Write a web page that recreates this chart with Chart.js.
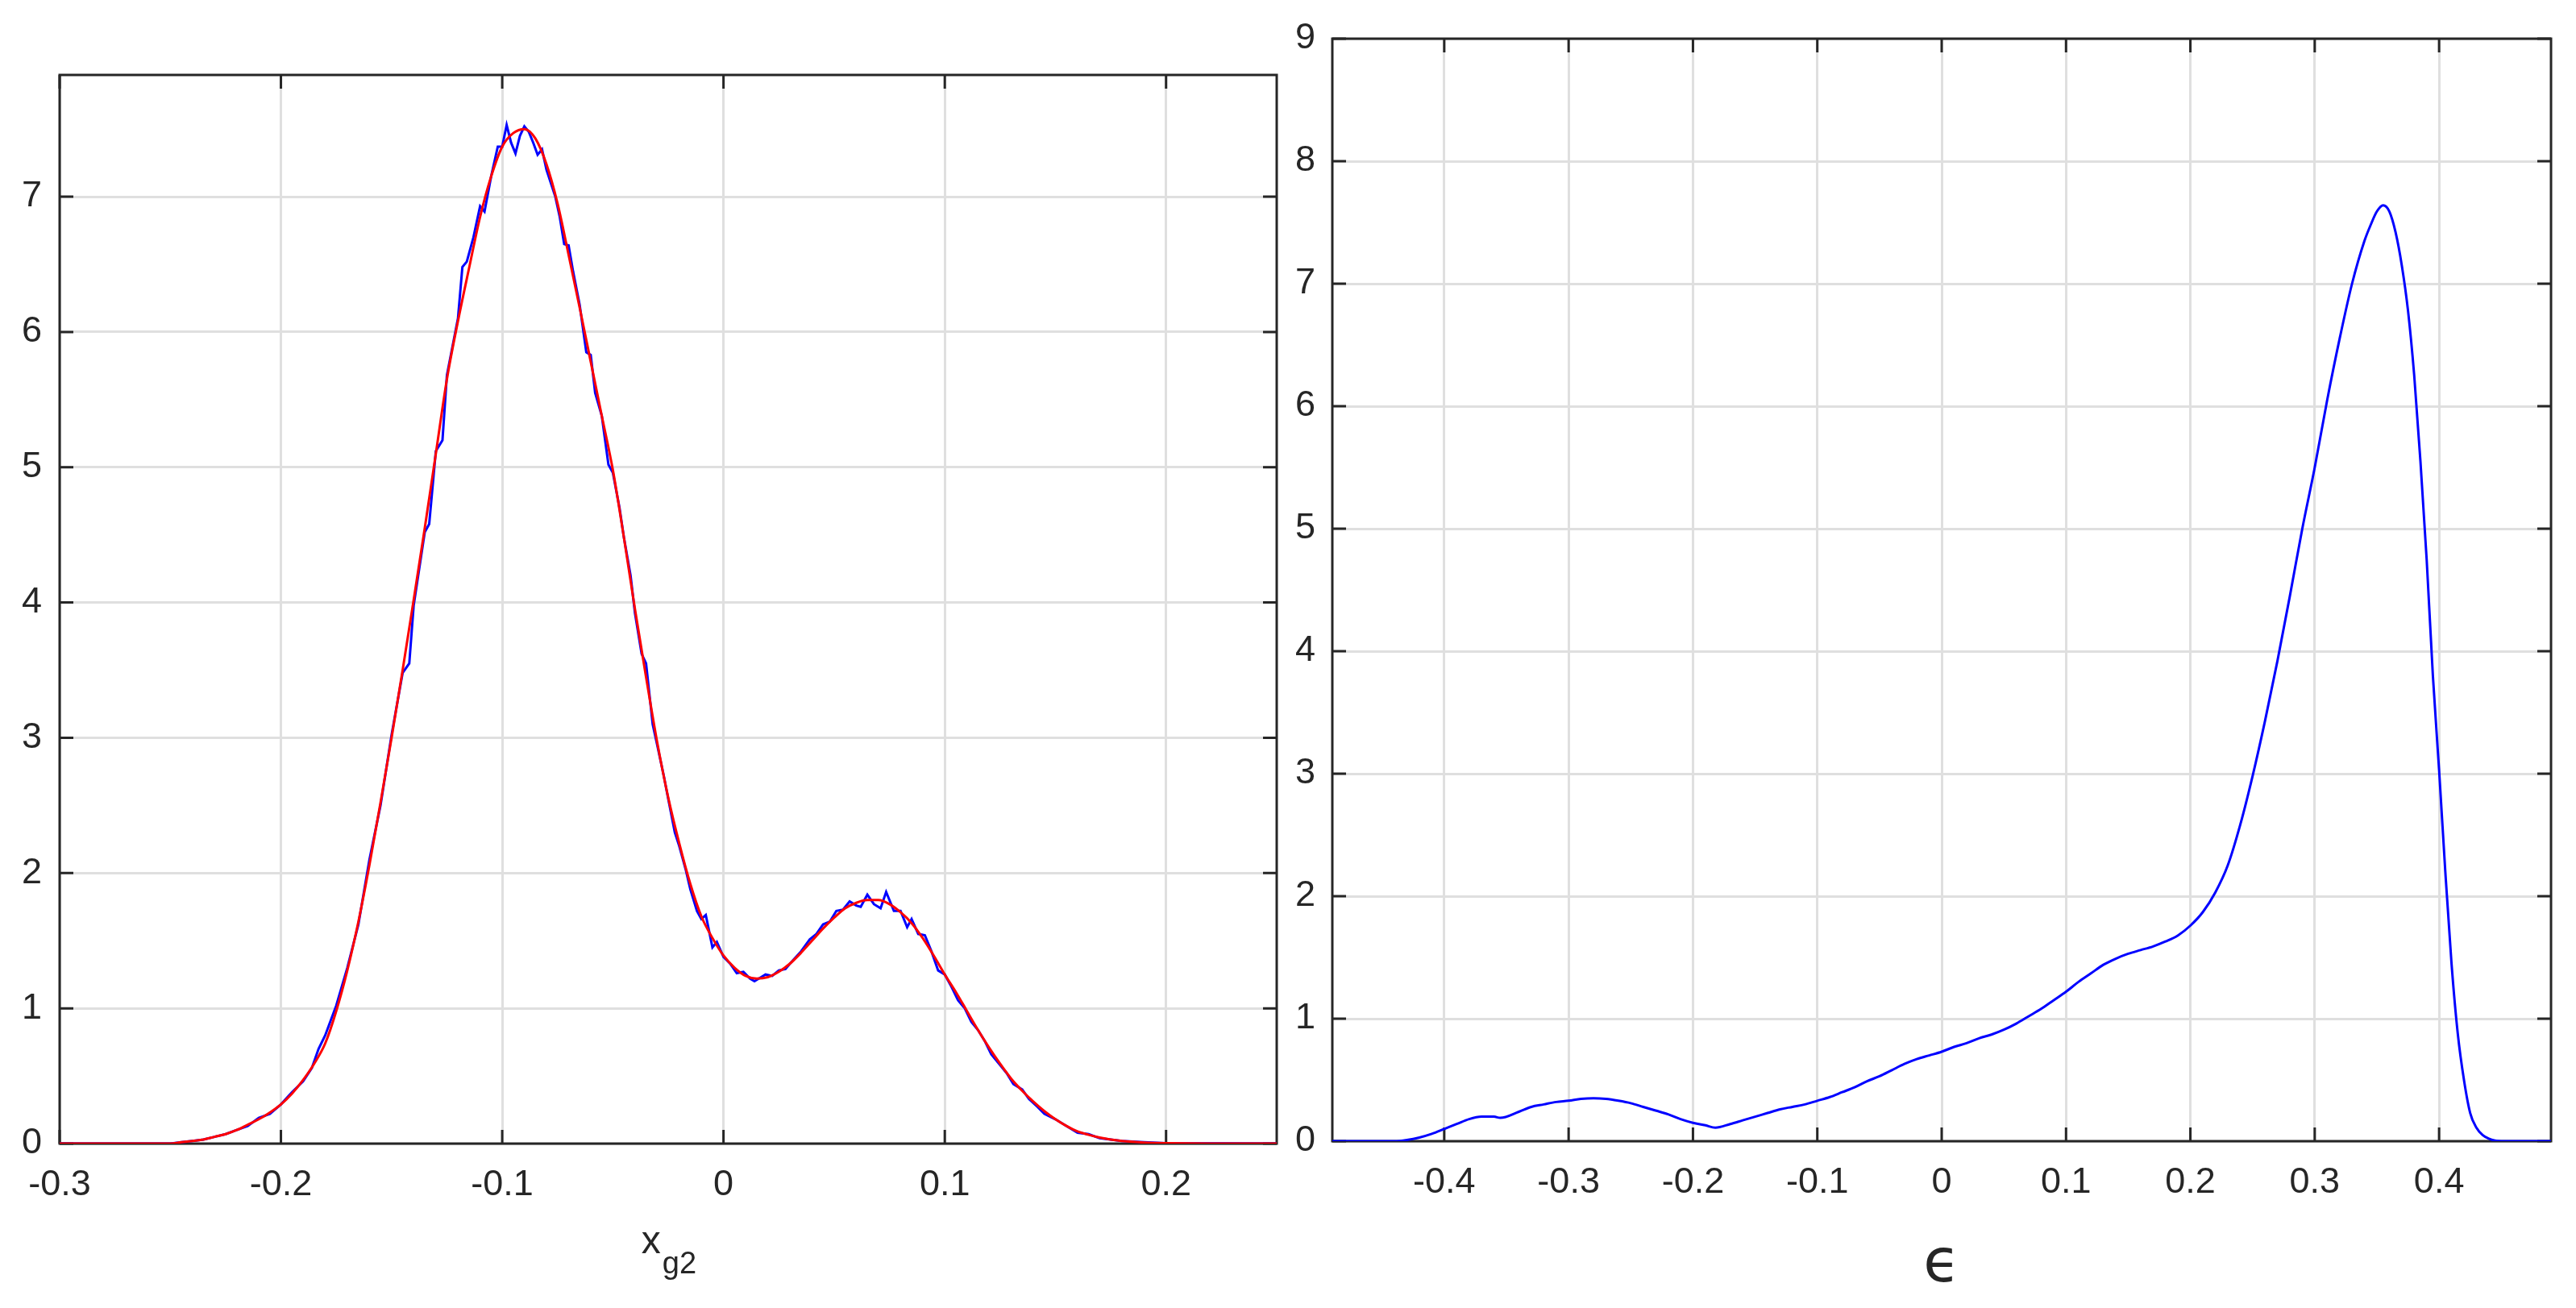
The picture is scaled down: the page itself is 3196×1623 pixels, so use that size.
<!DOCTYPE html>
<html lang="en">
<head>
<meta charset="UTF-8">
<title>x_g2 density and epsilon density</title>
<script src="https://cdn.jsdelivr.net/npm/chart.js@4.4.0/dist/chart.umd.min.js"></script>
<style>
  html, body { margin: 0; padding: 0; background: #fff; }
  #wrap { position: relative; width: 3196px; height: 1623px; }
  .panel { position: absolute; top: 0; height: 1623px; }
  #left { left: 0; width: 1600px; }
  #right { left: 1600px; width: 1596px; }
</style>
</head>
<body>
<div id="wrap">
  <div class="panel" id="left"><canvas id="chartLeft"></canvas></div>
  <div class="panel" id="right"><canvas id="chartRight"></canvas></div>
</div>
<script>
// ---- left panel: histogram (blue) and smooth fit (red) of x_g2
const histX = [-0.30, -0.25, -0.245, -0.24, -0.235, -0.23, -0.225, -0.22, -0.215, -0.21, -0.205, -0.20, -0.195, -0.19, -0.186, -0.183, -0.18, -0.175, -0.17, -0.165,
  -0.16, -0.155, -0.15, -0.145, -0.142, -0.14, -0.135, -0.133, -0.13, -0.127, -0.125, -0.12, -0.118, -0.116, -0.113, -0.110, -0.108, -0.105, -0.102, -0.100,
  -0.098, -0.096, -0.094, -0.092, -0.090, -0.088, -0.086, -0.084, -0.082, -0.080, -0.078, -0.076, -0.074, -0.072, -0.070, -0.068, -0.065, -0.062, -0.060, -0.058,
  -0.055, -0.052, -0.050, -0.047, -0.045, -0.042, -0.040, -0.037, -0.035, -0.032, -0.030, -0.027, -0.025, -0.022, -0.020, -0.017, -0.015, -0.012, -0.010, -0.008,
  -0.005, -0.003, 0.000, 0.003, 0.006, 0.009, 0.012, 0.014, 0.017, 0.019, 0.022, 0.025, 0.028, 0.030, 0.035, 0.039, 0.042, 0.045, 0.048, 0.051,
  0.054, 0.057, 0.060, 0.062, 0.065, 0.068, 0.071, 0.0735, 0.077, 0.080, 0.083, 0.085, 0.088, 0.091, 0.094, 0.097, 0.100, 0.103, 0.106, 0.109,
  0.112, 0.115, 0.118, 0.121, 0.125, 0.128, 0.131, 0.135, 0.138, 0.142, 0.145, 0.150, 0.155, 0.160, 0.165, 0.170, 0.175, 0.180, 0.190, 0.200, 0.250];
const histY = [0, 0, 0.01, 0.02, 0.03, 0.05, 0.07, 0.10, 0.13, 0.19, 0.22, 0.29, 0.38, 0.46, 0.56, 0.70, 0.80, 1.02, 1.30, 1.62,
  2.10, 2.50, 3.02, 3.48, 3.55, 3.98, 4.52, 4.58, 5.12, 5.20, 5.68, 6.10, 6.48, 6.52, 6.70, 6.93, 6.89, 7.15, 7.37, 7.37,
  7.53, 7.40, 7.32, 7.45, 7.52, 7.48, 7.40, 7.31, 7.35, 7.20, 7.10, 7.00, 6.85, 6.65, 6.64, 6.45, 6.20, 5.85, 5.83, 5.55,
  5.38, 5.02, 4.96, 4.70, 4.48, 4.20, 3.92, 3.62, 3.55, 3.10, 2.95, 2.72, 2.55, 2.30, 2.20, 2.02, 1.88, 1.72, 1.66, 1.69,
  1.45, 1.49, 1.38, 1.33, 1.26, 1.27, 1.22, 1.20, 1.23, 1.25, 1.24, 1.28, 1.29, 1.33, 1.42, 1.51, 1.55, 1.62, 1.64, 1.72,
  1.73, 1.79, 1.76, 1.75, 1.84, 1.77, 1.74, 1.86, 1.72, 1.72, 1.60, 1.66, 1.55, 1.54, 1.42, 1.28, 1.25, 1.16, 1.06, 1.00,
  0.90, 0.84, 0.76, 0.66, 0.58, 0.52, 0.44, 0.40, 0.33, 0.27, 0.22, 0.18, 0.13, 0.08, 0.07, 0.04, 0.03, 0.02, 0.01, 0.003, 0];

const fitX = [-0.30, -0.25, -0.245, -0.24, -0.235, -0.23, -0.225, -0.22, -0.215, -0.21, -0.205, -0.20, -0.195, -0.19, -0.185, -0.18, -0.175, -0.17, -0.165, -0.16,
  -0.155, -0.15, -0.145, -0.14, -0.135, -0.13, -0.125, -0.12, -0.115, -0.11, -0.105, -0.10, -0.095, -0.09, -0.085, -0.08, -0.075, -0.07, -0.065, -0.06,
  -0.055, -0.05, -0.045, -0.04, -0.035, -0.03, -0.025, -0.02, -0.015, -0.01, -0.005, 0.0, 0.005, 0.01, 0.015, 0.02, 0.025, 0.03, 0.035, 0.04,
  0.045, 0.05, 0.055, 0.06, 0.065, 0.07, 0.075, 0.08, 0.085, 0.09, 0.095, 0.10, 0.105, 0.11, 0.115, 0.12, 0.125, 0.13, 0.135, 0.14,
  0.145, 0.15, 0.155, 0.16, 0.165, 0.17, 0.175, 0.18, 0.185, 0.19, 0.195, 0.20, 0.21, 0.22, 0.25];
const fitY = [0, 0, 0.01, 0.02, 0.03, 0.05, 0.07, 0.10, 0.14, 0.18, 0.23, 0.29, 0.37, 0.47, 0.59, 0.74, 0.98, 1.28, 1.64, 2.06,
  2.52, 3.00, 3.50, 4.02, 4.55, 5.10, 5.65, 6.08, 6.47, 6.85, 7.15, 7.37, 7.47, 7.50, 7.43, 7.24, 6.95, 6.57, 6.18, 5.78,
  5.38, 4.98, 4.48, 3.95, 3.45, 2.97, 2.56, 2.22, 1.92, 1.68, 1.52, 1.39, 1.30, 1.24, 1.22, 1.23, 1.27, 1.33, 1.41, 1.50,
  1.59, 1.67, 1.74, 1.78, 1.80, 1.80, 1.77, 1.71, 1.63, 1.52, 1.39, 1.25, 1.12, 0.98, 0.84, 0.71, 0.59, 0.48, 0.39, 0.31,
  0.24, 0.18, 0.13, 0.09, 0.065, 0.045, 0.03, 0.02, 0.013, 0.008, 0.005, 0.003, 0.001, 0, 0];

const leftXTicks = [-0.3, -0.2, -0.1, 0, 0.1, 0.2];
const leftYTicks = [0, 1, 2, 3, 4, 5, 6, 7];

// ---- right panel: density of epsilon
const epsX = [-0.49, -0.44, -0.43, -0.42, -0.41, -0.40, -0.39, -0.38, -0.37, -0.36, -0.355, -0.34, -0.33, -0.32, -0.31, -0.30, -0.29, -0.28, -0.27, -0.26,
  -0.25, -0.24, -0.23, -0.22, -0.21, -0.20, -0.19, -0.182, -0.17, -0.16, -0.15, -0.14, -0.13, -0.12, -0.11, -0.10, -0.09, -0.08, -0.07, -0.06,
  -0.05, -0.04, -0.03, -0.02, -0.01, 0.00, 0.01, 0.02, 0.03, 0.04, 0.05, 0.06, 0.07, 0.08, 0.09, 0.10, 0.11, 0.12, 0.13, 0.14,
  0.15, 0.16, 0.17, 0.18, 0.19, 0.20, 0.21, 0.22, 0.23, 0.24, 0.25, 0.26, 0.27, 0.28, 0.29, 0.30, 0.31, 0.32, 0.33, 0.34,
  0.345, 0.35, 0.355, 0.36, 0.365, 0.37, 0.375, 0.38, 0.385, 0.39, 0.395, 0.40, 0.405, 0.41, 0.415, 0.42, 0.425, 0.43, 0.435, 0.44,
  0.445, 0.45, 0.49];
const epsY = [0, 0, 0.01, 0.03, 0.06, 0.10, 0.14, 0.18, 0.20, 0.20, 0.19, 0.24, 0.28, 0.30, 0.32, 0.33, 0.345, 0.35, 0.345, 0.33,
  0.31, 0.28, 0.25, 0.22, 0.18, 0.15, 0.13, 0.11, 0.14, 0.17, 0.20, 0.23, 0.26, 0.28, 0.30, 0.33, 0.36, 0.40, 0.44, 0.49,
  0.53, 0.58, 0.63, 0.67, 0.70, 0.73, 0.77, 0.80, 0.84, 0.87, 0.91, 0.96, 1.02, 1.08, 1.15, 1.22, 1.30, 1.37, 1.44, 1.49,
  1.53, 1.56, 1.59, 1.63, 1.68, 1.76, 1.87, 2.03, 2.25, 2.58, 2.98, 3.43, 3.92, 4.45, 5.00, 5.50, 6.05, 6.55, 7.00, 7.35,
  7.48, 7.59, 7.64, 7.59, 7.42, 7.15, 6.78, 6.25, 5.55, 4.75, 3.80, 3.03, 2.20, 1.45, 0.88, 0.50, 0.23, 0.11, 0.05, 0.02,
  0.005, 0, 0];

const rightXTicks = [-0.4, -0.3, -0.2, -0.1, 0, 0.1, 0.2, 0.3, 0.4];
const rightYTicks = [0, 1, 2, 3, 4, 5, 6, 7, 8, 9];

const ink = '#262626';
const gridGray = '#dfdfdf';
Chart.defaults.font.family = "'Liberation Sans', Arial, sans-serif";
Chart.defaults.color = ink;

function pairs(xs, ys) {
  return xs.map((v, i) => ({ x: v, y: ys[i] }));
}

// box round the plot area with inward tick marks (matlab style)
const axesBox = {
  id: 'axesBox',
  beforeDatasetsDraw(chart) {
    const { ctx, chartArea: a, scales: { x, y } } = chart;
    const len = 17;
    ctx.save();
    ctx.strokeStyle = ink;
    ctx.lineWidth = 3;
    ctx.beginPath();
    x.ticks.forEach(t => {
      const px = x.getPixelForValue(t.value);
      ctx.moveTo(px, a.bottom); ctx.lineTo(px, a.bottom - len);
      ctx.moveTo(px, a.top); ctx.lineTo(px, a.top + len);
    });
    y.ticks.forEach(t => {
      const py = y.getPixelForValue(t.value);
      ctx.moveTo(a.left, py); ctx.lineTo(a.left + len, py);
      ctx.moveTo(a.right, py); ctx.lineTo(a.right - len, py);
    });
    ctx.stroke();
    ctx.strokeRect(a.left, a.top, a.right - a.left, a.bottom - a.top);
    ctx.restore();
  }
};

// x-axis label, with optional subscript
const axisLabel = {
  id: 'axisLabel',
  afterDraw(chart, args, opts) {
    const { ctx, chartArea: a } = chart;
    ctx.save();
    ctx.fillStyle = ink;
    ctx.textBaseline = 'alphabetic';
    ctx.textAlign = 'left';
    ctx.font = opts.font;
    const w1 = ctx.measureText(opts.text).width;
    let w2 = 0;
    if (opts.sub) {
      ctx.font = opts.subFont;
      w2 = ctx.measureText(opts.sub).width;
    }
    const cx = (a.left + a.right) / 2;
    const x0 = cx - (w1 + w2) / 2;
    ctx.font = opts.font;
    ctx.fillText(opts.text, x0, a.bottom + opts.offset);
    if (opts.sub) {
      ctx.font = opts.subFont;
      ctx.fillText(opts.sub, x0 + w1 + 2, a.bottom + opts.offset + opts.subDrop);
    }
    ctx.restore();
  }
};

function fixedTicks(list) {
  return scale => { scale.ticks = list.map(v => ({ value: v })); };
}

function axisOpts(min, max, ticks, pad) {
  return {
    type: 'linear',
    min: min,
    max: max,
    afterBuildTicks: fixedTicks(ticks),
    grid: { color: gridGray, lineWidth: 3, drawTicks: false },
    border: { display: false },
    ticks: {
      font: { size: 45 },
      padding: pad,
      autoSkip: false,
      maxRotation: 0,
      callback: v => String(v)
    }
  };
}

const leftX = axisOpts(-0.3, 0.25, leftXTicks, 25);
leftX.afterFit = s => { s.height = 204; };
const leftY = axisOpts(0, 7.9, leftYTicks, 22);
leftY.afterFit = s => { s.width = 74; };

new Chart(document.getElementById('chartLeft'), {
  type: 'line',
  data: {
    datasets: [{
      label: 'fit',
      data: pairs(fitX, fitY),
      borderColor: '#ff0000',
      borderWidth: 3,
      pointRadius: 0,
      cubicInterpolationMode: 'monotone'
    }, {
      label: 'histogram',
      data: pairs(histX, histY),
      borderColor: '#0000ff',
      borderWidth: 3,
      pointRadius: 0,
      tension: 0
    }]
  },
  options: {
    responsive: true,
    maintainAspectRatio: false,
    animation: false,
    layout: { padding: { top: 93, right: 16, left: 0, bottom: 0 } },
    plugins: {
      legend: { display: false },
      tooltip: { enabled: false },
      axisLabel: {
        text: 'x', sub: 'g2',
        font: "48px 'Liberation Sans', Arial, sans-serif",
        subFont: "38px 'Liberation Sans', Arial, sans-serif",
        offset: 136, subDrop: 25
      }
    },
    scales: { x: leftX, y: leftY }
  },
  plugins: [axesBox, axisLabel]
});

const rightX = axisOpts(-0.49, 0.49, rightXTicks, 25);
rightX.afterFit = s => { s.height = 207; };
const rightY = axisOpts(0, 9, rightYTicks, 21);
rightY.afterFit = s => { s.width = 53; };

new Chart(document.getElementById('chartRight'), {
  type: 'line',
  data: {
    datasets: [{
      label: 'epsilon',
      data: pairs(epsX, epsY),
      borderColor: '#0000ff',
      borderWidth: 3,
      pointRadius: 0,
      cubicInterpolationMode: 'monotone'
    }]
  },
  options: {
    responsive: true,
    maintainAspectRatio: false,
    animation: false,
    layout: { padding: { top: 45, right: 31, left: 0, bottom: 0 } },
    plugins: {
      legend: { display: false },
      tooltip: { enabled: false },
      axisLabel: {
        text: '\u03F5',
        font: "74px 'DejaVu Sans', sans-serif",
        offset: 174
      }
    },
    scales: { x: rightX, y: rightY }
  },
  plugins: [axesBox, axisLabel]
});
</script>
</body>
</html>
